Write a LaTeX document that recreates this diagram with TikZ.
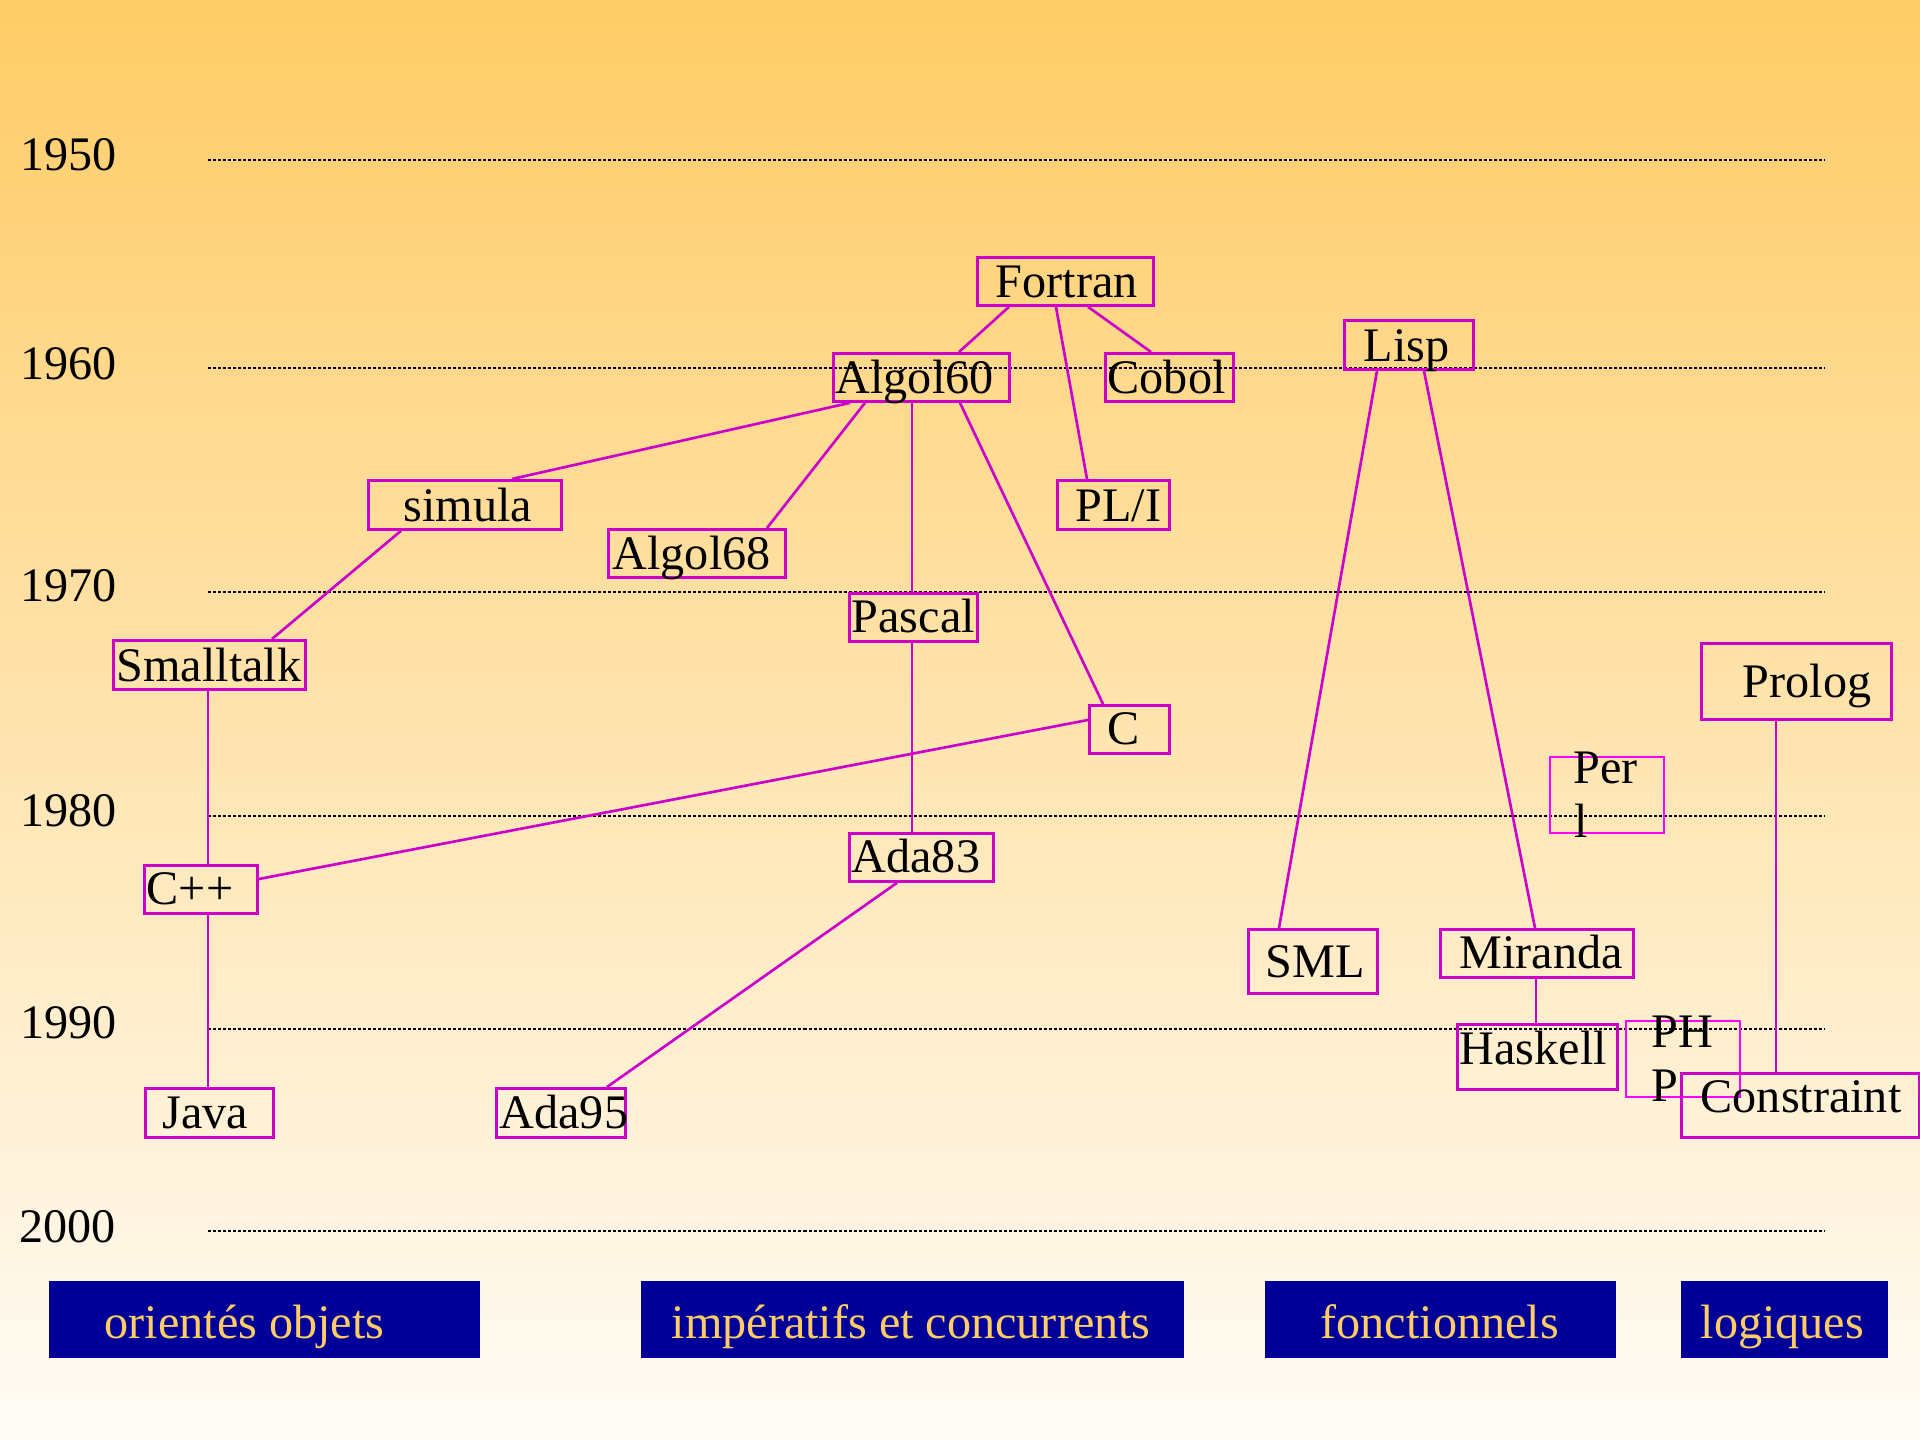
\documentclass[tikz,border=0pt]{standalone}
\usepackage{fontspec}
\setmainfont{Liberation Serif}
\usetikzlibrary{calc}
\definecolor{bgtop}{RGB}{255,204,102}
\definecolor{bgbot}{RGB}{255,252,247}
\definecolor{mag}{RGB}{204,0,204}
\definecolor{magb}{RGB}{255,0,255}
\definecolor{navyleg}{RGB}{0,0,153}
\definecolor{legtxt}{RGB}{255,204,102}
\begin{document}
\begin{tikzpicture}[x=0.01cm,y=-0.01cm,
  every node/.style={font=\fontsize{13.7}{16}\selectfont},
  box/.style={draw=mag, line width=0.8pt, inner sep=0pt, anchor=north west},
  boxb/.style={draw=magb, line width=0.6pt, inner sep=0pt, anchor=north west},
  lbl/.style={inner sep=0pt, anchor=base west, text=black},
  conn/.style={draw=mag, line width=0.75pt},
  gridline/.style={line width=0.8pt, dash pattern=on 0.854pt off 0.569pt},
  leg/.style={fill=navyleg, inner sep=0pt, anchor=north west},
  legt/.style={inner sep=0pt, anchor=base west, text=legtxt}]

\shade[top color=bgtop, bottom color=bgbot] (0,0) rectangle (1920,1440);
\useasboundingbox (0,0) rectangle (1920,1440);

% year labels
\node[lbl] (y1950) at (20,171) {1950};
\node[lbl] (y1960) at (20,380) {1960};
\node[lbl] (y1970) at (20,602) {1970};
\node[lbl] (y1980) at (20,827) {1980};
\node[lbl] (y1990) at (20,1039) {1990};
\node[lbl] (y2000) at (19,1243) {2000};

% dotted year lines
\foreach \yy in {160,368,592,816,1029,1231}
  \draw[gridline] (208,\yy) -- (1825,\yy);

% boxes
\node[box, minimum width=1.76cm, minimum height=0.48cm] (fortran) at (976,256) {};
\node[box, minimum width=1.76cm, minimum height=0.48cm] (algol60) at (832,352) {};
\node[box, minimum width=1.28cm, minimum height=0.48cm] (cobol) at (1104,352) {};
\node[box, minimum width=1.12cm, minimum height=0.49cm] (pli) at (1056,479) {};
\node[box, minimum width=1.93cm, minimum height=0.49cm] (simula) at (367,479) {};
\node[box, minimum width=1.77cm, minimum height=0.48cm] (algol68) at (607,528) {};
\node[box, minimum width=1.28cm, minimum height=0.48cm] (pascal) at (848,592) {};
\node[box, minimum width=0.80cm, minimum height=0.48cm] (c) at (1088,704) {};
\node[box, minimum width=1.44cm, minimum height=0.48cm] (ada83) at (848,832) {};
\node[box, minimum width=1.92cm, minimum height=0.49cm] (smalltalk) at (112,639) {};
\node[box, minimum width=1.13cm, minimum height=0.48cm] (cpp) at (143,864) {};
\node[box, minimum width=1.28cm, minimum height=0.49cm] (java) at (144,1087) {};
\node[box, minimum width=1.29cm, minimum height=0.49cm] (ada95) at (495,1087) {};
\node[box, minimum width=1.29cm, minimum height=0.49cm] (lisp) at (1343,319) {};
\node[box, minimum width=1.29cm, minimum height=0.64cm] (sml) at (1247,928) {};
\node[box, minimum width=1.93cm, minimum height=0.48cm] (miranda) at (1439,928) {};
\node[box, minimum width=1.60cm, minimum height=0.65cm] (haskell) at (1456,1023) {};
\node[box, minimum width=1.90cm, minimum height=0.76cm] (prolog) at (1700,642) {};
\node[boxb, minimum width=1.14cm, minimum height=0.76cm] (perl) at (1549,756) {};
\node[boxb, minimum width=1.14cm, minimum height=0.76cm] (php) at (1625,1020) {};
\node[box, minimum width=2.38cm, minimum height=0.64cm] (constraint) at (1680,1072) {};

% connectors
\draw[conn] ($(fortran.south west)+(33,0)$) -- ($(algol60.north west)+(127,0)$);
\draw[conn] ($(fortran.south west)+(80,0)$) -- ($(pli.north west)+(31,0)$);
\draw[conn] ($(fortran.south west)+(112,0)$) -- ($(cobol.north west)+(47,0)$);
\draw[conn] ($(algol60.south west)+(18,0)$) -- ($(simula.north west)+(145,0)$);
\draw[conn] ($(algol60.south west)+(33,0)$) -- ($(algol68.north west)+(160,0)$);
\draw[conn] ($(algol60.south west)+(80,0)$) -- ($(pascal.north west)+(64,0)$);
\draw[conn] ($(algol60.south west)+(128,0)$) -- ($(c.north west)+(15,0)$);
\draw[conn] ($(simula.south west)+(34,0)$) -- ($(smalltalk.north west)+(160,0)$);
\draw[conn] ($(smalltalk.south west)+(96,0)$) -- ($(cpp.north west)+(65,0)$);
\draw[conn] ($(cpp.north east)+(0,15)$) -- ($(c.north west)+(0,16)$);
\draw[conn] ($(cpp.south west)+(65,0)$) -- ($(java.north west)+(64,0)$);
\draw[conn] ($(pascal.south west)+(64,0)$) -- ($(ada83.north west)+(64,0)$);
\draw[conn] ($(ada83.south west)+(49,0)$) -- ($(ada95.north west)+(112,0)$);
\draw[conn] ($(lisp.south west)+(34,0)$) -- ($(sml.north west)+(32,0)$);
\draw[conn] ($(lisp.south west)+(81,0)$) -- ($(miranda.north west)+(96,0)$);
\draw[conn] ($(miranda.south west)+(97,0)$) -- ($(haskell.north west)+(80,0)$);
\draw[conn] ($(prolog.south west)+(76,0)$) -- ($(constraint.north west)+(96,0)$);

% box texts
\node[lbl] (fortran-t) at (995,298) {Fortran};
\node[lbl] (algol60-t) at (835,394) {Algol60};
\node[lbl] (cobol-t) at (1107,394) {Cobol};
\node[lbl] (pli-t) at (1075,522) {PL/I};
\node[lbl] (simula-t) at (403,522) {simula};
\node[lbl] (algol68-t) at (612,570) {Algol68};
\node[lbl] (pascal-t) at (851,633) {Pascal};
\node[lbl] (c-t) at (1107,745) {C};
\node[lbl] (ada83-t) at (851,873) {Ada83};
\node[lbl] (smalltalk-t) at (116,682) {Smalltalk};
\node[lbl] (cpp-t) at (146,905) {C++};
\node[lbl] (java-t) at (162,1129) {Java};
\node[lbl] (ada95-t) at (499,1129) {Ada95};
\node[lbl] (lisp-t) at (1363,362) {Lisp};
\node[lbl] (sml-t) at (1265,978) {SML};
\node[lbl] (miranda-t) at (1459,969) {Miranda};
\node[lbl] (haskell-t) at (1459,1065) {Haskell};
\node[lbl] (prolog-t) at (1742,698) {Prolog};
\node[lbl] (perl-t1) at (1573,784) {Per};
\node[lbl] (perl-t2) at (1574,838) {l};
\node[lbl] (php-t1) at (1651,1048) {PH};
\node[lbl] (php-t2) at (1651,1102) {P};
\node[lbl] (constraint-t) at (1700,1113) {Constraint};

% legend
\node[leg, minimum width=4.31cm, minimum height=0.77cm] (lego) at (48,1280) {};
\node[legt] (lego-t) at (104,1339) {orientés objets};
\node[leg, minimum width=5.43cm, minimum height=0.77cm] (legi) at (640,1280) {};
\node[legt] (legi-t) at (671,1339) {impératifs et concurrents};
\node[leg, minimum width=3.51cm, minimum height=0.77cm] (legf) at (1264,1280) {};
\node[legt] (legf-t) at (1320,1339) {fonctionnels};
\node[leg, minimum width=2.07cm, minimum height=0.77cm] (legl) at (1680,1280) {};
\node[legt] (legl-t) at (1700,1339) {logiques};
\end{tikzpicture}
\end{document}
